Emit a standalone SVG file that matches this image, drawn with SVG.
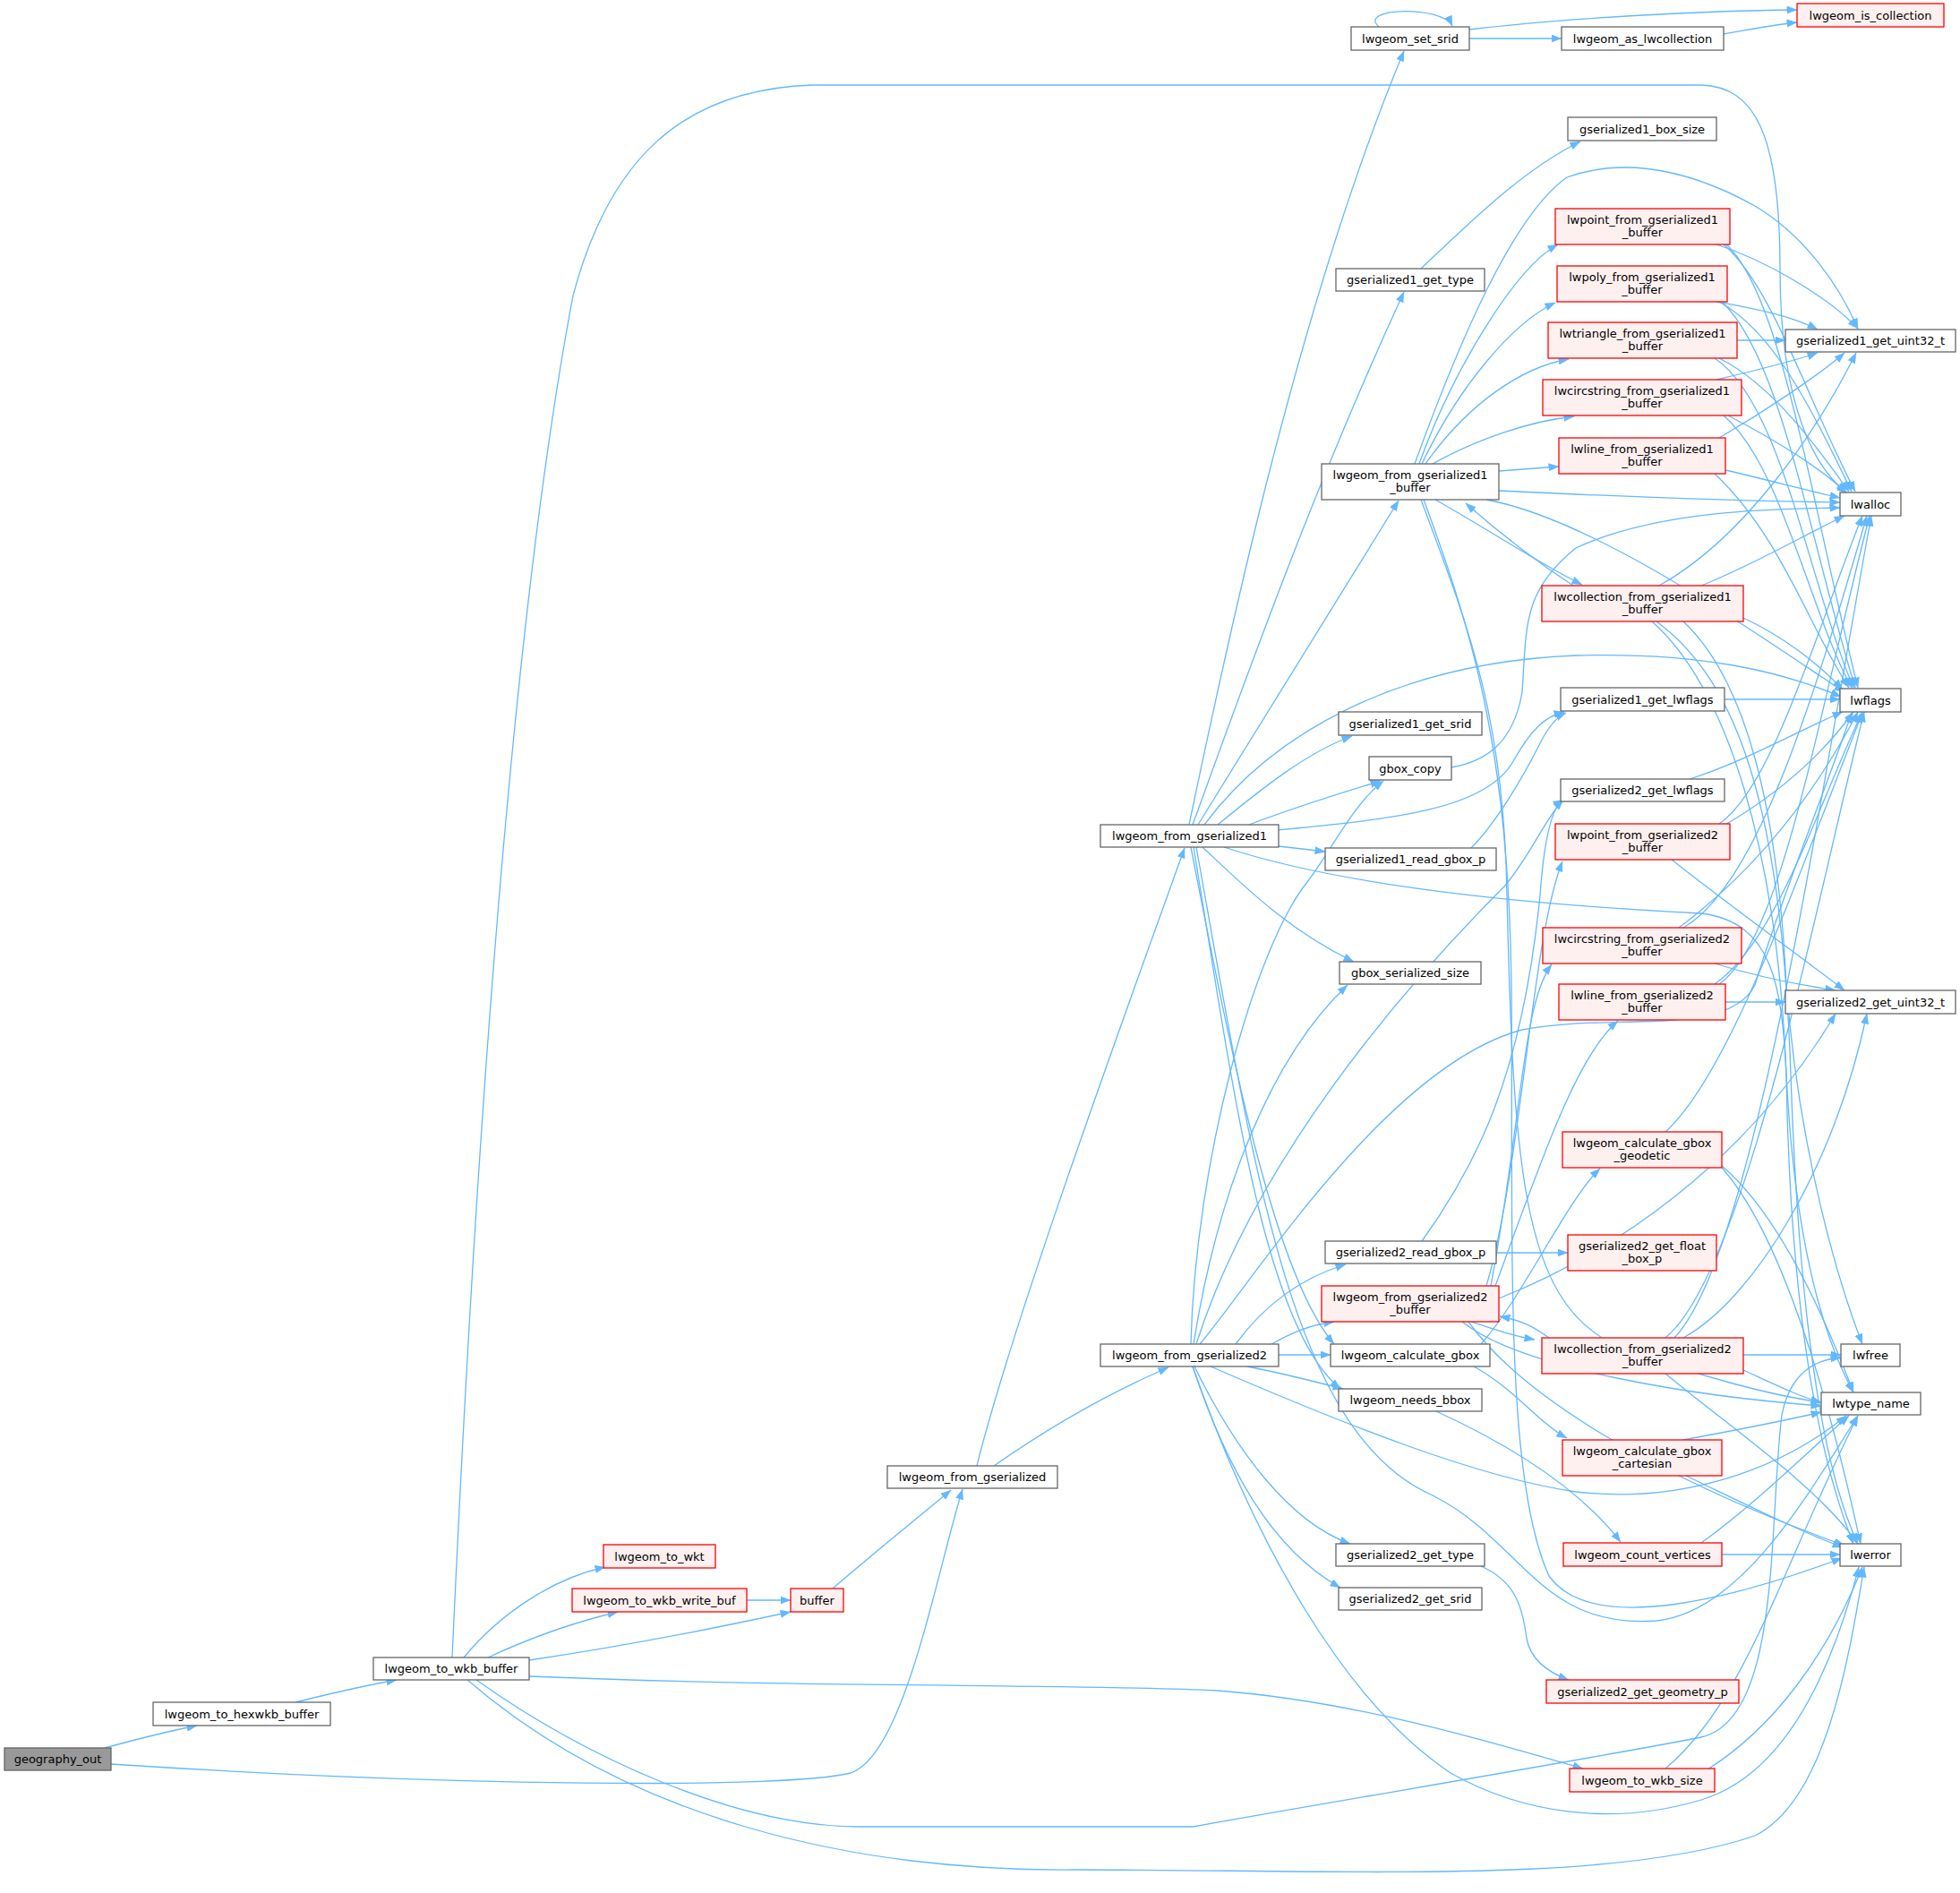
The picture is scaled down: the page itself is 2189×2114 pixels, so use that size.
<svg xmlns="http://www.w3.org/2000/svg" width="2189" height="2114" viewBox="0 0 2189 2114">
<style>
rect{fill:#fff;stroke:#666;stroke-width:1.3}
.r rect{fill:#FFF0F0;stroke:#FF0000}
.g rect{fill:#999}
text{font-family:"DejaVu Sans",sans-serif;font-size:13px;text-anchor:middle;fill:#000}
#edges path{fill:none;stroke:#63B8FF;stroke-width:1.3;marker-end:url(#a)}
</style>
<defs>
<marker id="a" viewBox="0 0 12 9" refX="11.5" refY="4.5" markerWidth="12" markerHeight="9" markerUnits="userSpaceOnUse" orient="auto"><path d="M0,0 L12,4.5 L0,9 z" fill="#63B8FF" stroke="none"/></marker>
</defs>
<rect x="0" y="0" width="2189" height="2114" style="fill:#fff;stroke:none"/>
<g id="edges">
<path d="M117,1952 C150,1943 185,1934 220,1927"/>
<path d="M124,1970 C500,1995 880,1998 950,1980 C1010,1960 1045,1760 1075,1663"/>
<path d="M330,1901 C370,1891 410,1882 443,1876"/>
<path d="M518,1851 C560,1800 620,1762 676,1750"/>
<path d="M545,1851 C590,1830 640,1812 690,1800"/>
<path d="M591,1854 C700,1838 800,1818 883,1800"/>
<path d="M505,1851 C530,1300 570,700 640,330 C680,180 760,100 907,95 L1900,95 C1960,97 1988,150 1988,300 C1988,460 2030,525 2063,551"/>
<path d="M591,1872 C900,1885 1200,1880 1360,1888 C1520,1900 1680,1950 1768,1975"/>
<path d="M532,1876 C650,1960 820,2040 960,2040 L1332,2040 C1500,2010 1800,1960 1900,1940 C1990,1920 1975,1700 1990,1580 C2000,1530 2030,1518 2056,1516"/>
<path d="M522,1876 C700,2030 950,2090 1200,2088 C1500,2088 1800,2105 1960,2050 C2040,2010 2065,1850 2082,1750"/>
<path d="M930,1774 C975,1735 1025,1695 1062,1664"/>
<path d="M834,1787 L883,1787"/>
<path d="M1091,1637 C1130,1480 1250,1150 1323,947"/>
<path d="M1110,1637 C1170,1595 1240,1555 1305,1527"/>
<path d="M1328,921 C1370,720 1450,340 1568,57"/>
<path d="M1332,921 C1380,790 1460,560 1568,326"/>
<path d="M1338,921 C1400,820 1480,690 1562,559"/>
<path d="M1345,921 C1420,820 1560,740 1760,732 C1900,728 1990,750 2056,778"/>
<path d="M1360,921 C1410,880 1460,840 1510,822"/>
<path d="M1395,921 C1450,900 1500,885 1542,872"/>
<path d="M1428,927 C1550,915 1660,905 1690,850 C1710,815 1725,800 1747,795"/>
<path d="M1428,945 L1480,951"/>
<path d="M1343,946 C1390,990 1440,1040 1512,1074"/>
<path d="M1367,946 C1500,990 1700,1010 1900,1020 C1980,1030 1990,1100 1995,1200 C2000,1500 2040,1650 2070,1724"/>
<path d="M1330,946 C1370,1150 1420,1420 1490,1501"/>
<path d="M1333,946 C1375,1200 1410,1480 1497,1551"/>
<path d="M1336,946 C1400,1300 1440,1600 1600,1670 C1700,1720 1720,1820 1850,1810 C1950,1800 2030,1650 2075,1581"/>
<path d="M1330,1501 C1335,1300 1400,1060 1460,985 C1490,945 1510,900 1545,872"/>
<path d="M1333,1501 C1360,1330 1420,1180 1505,1100"/>
<path d="M1336,1501 C1400,1300 1560,1110 1680,990 C1710,955 1725,915 1746,893"/>
<path d="M1340,1501 C1400,1430 1550,1190 1700,1150 C1800,1130 1930,1160 1960,1100 C1990,1000 2040,880 2068,796"/>
<path d="M1380,1501 C1410,1460 1450,1428 1503,1412"/>
<path d="M1420,1501 C1440,1490 1460,1480 1490,1476"/>
<path d="M1428,1513 L1486,1513"/>
<path d="M1393,1526 C1430,1533 1465,1542 1500,1551"/>
<path d="M1334,1526 C1380,1620 1440,1700 1508,1724"/>
<path d="M1332,1526 C1370,1640 1420,1730 1497,1773"/>
<path d="M1352,1526 C1500,1590 1650,1650 1760,1666 C1880,1680 1990,1640 2062,1581"/>
<path d="M1332,1526 C1400,1720 1500,1900 1620,1980 C1700,2025 1800,2040 1900,2010 C2000,1980 2050,1850 2076,1750"/>
<path d="M1540,30 C1515,8 1612,6 1622,29"/>
<path d="M1641,43 L1744,43"/>
<path d="M1641,33 C1750,20 1900,12 2007,11"/>
<path d="M1925,38 C1960,32 1985,27 2007,25"/>
<path d="M1587,300 C1640,250 1700,190 1765,158"/>
<path d="M1654,1749 C1690,1765 1700,1790 1705,1830 C1710,1855 1730,1868 1752,1876"/>
<path d="M1585,518 C1620,420 1690,300 1740,273"/>
<path d="M1588,518 C1630,430 1690,360 1737,338"/>
<path d="M1592,518 C1640,450 1700,410 1752,401"/>
<path d="M1600,518 C1650,490 1710,470 1758,465"/>
<path d="M1674,526 L1741,521"/>
<path d="M1603,558 C1660,590 1720,630 1767,653"/>
<path d="M1580,518 C1630,380 1690,240 1750,198 C1800,180 1870,180 1960,230 C2010,260 2050,310 2075,367"/>
<path d="M1674,548 C1800,554 1950,560 2055,561"/>
<path d="M1660,558 C1780,580 1950,700 2060,773"/>
<path d="M1587,558 C1640,700 1680,800 1683,1000 C1690,1300 1700,1450 1800,1500 C1900,1540 1990,1560 2034,1566"/>
<path d="M1590,558 C1650,720 1685,850 1688,1100 C1690,1400 1680,1650 1730,1760 C1780,1830 1950,1780 2057,1740"/>
<path d="M1917,273 C1970,290 2040,330 2075,367"/>
<path d="M1925,273 C1980,320 2020,450 2072,549"/>
<path d="M1928,273 C1990,330 2020,550 2075,768"/>
<path d="M1917,337 C1960,345 2000,352 2030,368"/>
<path d="M1920,337 C1980,370 2020,450 2068,549"/>
<path d="M1923,337 C1990,400 2020,600 2072,768"/>
<path d="M1940,380 L1994,380"/>
<path d="M1920,400 C1980,430 2030,500 2065,549"/>
<path d="M1915,400 C1990,450 2020,650 2070,768"/>
<path d="M1917,424 C1960,414 2000,404 2030,394"/>
<path d="M1930,464 C1980,490 2030,520 2062,550"/>
<path d="M1925,464 C1990,520 2020,680 2068,768"/>
<path d="M1920,489 C1970,460 2030,420 2060,394"/>
<path d="M1927,525 C1970,535 2020,548 2055,556"/>
<path d="M1915,529 C1990,600 2020,700 2065,768"/>
<path d="M1853,654 C1950,600 2030,480 2073,394"/>
<path d="M1900,654 C1960,630 2010,600 2060,576"/>
<path d="M1947,690 C1990,710 2030,740 2058,770"/>
<path d="M1760,656 C1720,630 1680,600 1637,562"/>
<path d="M1850,694 C1940,760 1990,900 2000,1200 C2010,1500 2040,1650 2075,1724"/>
<path d="M1845,694 C1930,770 1985,950 1995,1200 C2005,1400 2040,1500 2070,1555"/>
<path d="M1880,694 C1950,760 1985,900 1995,1100 C2010,1300 2060,1450 2080,1501"/>
<path d="M1926,781 L2055,781"/>
<path d="M1643,947 C1670,920 1700,870 1720,830 C1730,810 1740,800 1749,796"/>
<path d="M1621,857 C1660,850 1690,830 1700,773 C1705,700 1700,660 1760,612 C1850,570 1980,568 2055,567"/>
<path d="M1887,870 C1950,850 2010,815 2058,795"/>
<path d="M1867,960 C1930,1010 2000,1060 2060,1106"/>
<path d="M1920,920 C1980,880 2030,700 2080,576"/>
<path d="M1925,922 C1980,890 2030,850 2070,795"/>
<path d="M1915,1076 C1960,1090 2010,1100 2050,1106"/>
<path d="M1880,1036 C1960,990 2020,800 2085,576"/>
<path d="M1875,1036 C1950,980 2020,900 2075,795"/>
<path d="M1927,1119 L1994,1119"/>
<path d="M1920,1099 C1990,1050 2030,800 2088,576"/>
<path d="M1915,1099 C1985,1050 2030,900 2080,795"/>
<path d="M1880,1494 C1960,1450 2050,1300 2085,1132"/>
<path d="M1870,1494 C1960,1400 2030,900 2090,576"/>
<path d="M1860,1494 C1950,1420 2030,1000 2082,795"/>
<path d="M1947,1513 L2056,1513"/>
<path d="M1947,1530 C1980,1545 2010,1560 2034,1566"/>
<path d="M1860,1534 C1940,1600 2030,1660 2075,1724"/>
<path d="M1730,1494 C1710,1480 1700,1475 1675,1470"/>
<path d="M1660,1436 C1700,1300 1710,1050 1745,962"/>
<path d="M1665,1436 C1700,1250 1700,1120 1733,1077"/>
<path d="M1670,1436 C1720,1300 1760,1180 1807,1140"/>
<path d="M1643,1476 C1670,1485 1690,1492 1714,1496"/>
<path d="M1674,1450 C1800,1400 1950,1300 2050,1132"/>
<path d="M1633,1476 C1700,1530 1900,1560 2034,1570"/>
<path d="M1640,1476 C1700,1560 1850,1650 2060,1726"/>
<path d="M1671,1399 L1751,1399"/>
<path d="M1588,1386 C1650,1300 1700,1200 1720,1000 C1725,930 1735,900 1746,893"/>
<path d="M1654,1501 C1700,1450 1750,1340 1787,1305"/>
<path d="M1646,1526 C1690,1550 1720,1590 1750,1606"/>
<path d="M1604,1576 C1700,1620 1770,1670 1810,1722"/>
<path d="M1860,1264 C1930,1200 2000,1000 2080,796"/>
<path d="M1923,1302 C1980,1350 2030,1450 2070,1555"/>
<path d="M1923,1304 C1990,1380 2040,1550 2078,1724"/>
<path d="M1880,1608 C1950,1595 2000,1585 2034,1577"/>
<path d="M1883,1648 C1950,1680 2010,1710 2058,1728"/>
<path d="M1900,1723 C1960,1680 2020,1620 2065,1581"/>
<path d="M1923,1736 L2055,1736"/>
<path d="M1860,1975 C1950,1900 1990,1750 2075,1581"/>
<path d="M1907,1976 C1980,1930 2040,1850 2080,1750"/>
</g>
<g id="geography_out" class="g"><rect x="5" y="1952" width="119" height="25"/><text x="64.5" y="1969">geography_out</text></g>
<g id="lwgeom_to_hexwkb_buffer"><rect x="171" y="1901" width="198" height="26"/><text x="270" y="1918.5">lwgeom_to_hexwkb_buffer</text></g>
<g id="lwgeom_to_wkb_buffer"><rect x="417" y="1851" width="174" height="25"/><text x="504" y="1868">lwgeom_to_wkb_buffer</text></g>
<g id="lwgeom_to_wkt" class="r"><rect x="674" y="1725" width="125" height="26"/><text x="736.5" y="1742.5">lwgeom_to_wkt</text></g>
<g id="lwgeom_to_wkb_write_buf" class="r"><rect x="639" y="1774" width="195" height="26"/><text x="736.5" y="1791.5">lwgeom_to_wkb_write_buf</text></g>
<g id="buffer" class="r"><rect x="883" y="1774" width="59" height="26"/><text x="912.5" y="1791.5">buffer</text></g>
<g id="lwgeom_from_gserialized"><rect x="991" y="1637" width="190" height="25"/><text x="1086" y="1654">lwgeom_from_gserialized</text></g>
<g id="lwgeom_from_gserialized1"><rect x="1229" y="921" width="199" height="25"/><text x="1328.5" y="938">lwgeom_from_gserialized1</text></g>
<g id="lwgeom_from_gserialized2"><rect x="1229" y="1501" width="199" height="25"/><text x="1328.5" y="1518">lwgeom_from_gserialized2</text></g>
<g id="lwgeom_set_srid"><rect x="1509" y="30" width="132" height="26"/><text x="1575" y="47.5">lwgeom_set_srid</text></g>
<g id="lwgeom_as_lwcollection"><rect x="1744" y="30" width="181" height="26"/><text x="1834.5" y="47.5">lwgeom_as_lwcollection</text></g>
<g id="lwgeom_is_collection" class="r"><rect x="2007" y="4" width="164" height="26"/><text x="2089" y="21.5">lwgeom_is_collection</text></g>
<g id="gserialized1_box_size"><rect x="1751" y="131" width="166" height="26"/><text x="1834" y="148.5">gserialized1_box_size</text></g>
<g id="gserialized1_get_type"><rect x="1492" y="300" width="166" height="25"/><text x="1575" y="317">gserialized1_get_type</text></g>
<g id="lwpoint_from_gserialized1_buffer" class="r"><rect x="1737" y="233" width="195" height="40"/><text x="1834.5" y="249.5">lwpoint_from_gserialized1</text><text x="1834.5" y="264">_buffer</text></g>
<g id="lwpoly_from_gserialized1_buffer" class="r"><rect x="1739" y="297" width="190" height="40"/><text x="1834" y="313.5">lwpoly_from_gserialized1</text><text x="1834" y="328">_buffer</text></g>
<g id="lwtriangle_from_gserialized1_buffer" class="r"><rect x="1729" y="360" width="211" height="40"/><text x="1834.5" y="376.5">lwtriangle_from_gserialized1</text><text x="1834.5" y="391">_buffer</text></g>
<g id="lwcircstring_from_gserialized1_buffer" class="r"><rect x="1723" y="424" width="222" height="40"/><text x="1834" y="440.5">lwcircstring_from_gserialized1</text><text x="1834" y="455">_buffer</text></g>
<g id="lwline_from_gserialized1_buffer" class="r"><rect x="1741" y="489" width="186" height="40"/><text x="1834" y="505.5">lwline_from_gserialized1</text><text x="1834" y="520">_buffer</text></g>
<g id="lwgeom_from_gserialized1_buffer"><rect x="1476" y="518" width="198" height="40"/><text x="1575" y="534.5">lwgeom_from_gserialized1</text><text x="1575" y="549">_buffer</text></g>
<g id="lwcollection_from_gserialized1_buffer" class="r"><rect x="1722" y="654" width="225" height="40"/><text x="1834.5" y="670.5">lwcollection_from_gserialized1</text><text x="1834.5" y="685">_buffer</text></g>
<g id="gserialized1_get_uint32_t"><rect x="1994" y="368" width="190" height="25"/><text x="2089" y="385">gserialized1_get_uint32_t</text></g>
<g id="lwalloc"><rect x="2055" y="550" width="68" height="26"/><text x="2089" y="567.5">lwalloc</text></g>
<g id="lwflags"><rect x="2055" y="769" width="68" height="26"/><text x="2089" y="786.5">lwflags</text></g>
<g id="gserialized1_get_lwflags"><rect x="1743" y="768" width="183" height="26"/><text x="1834.5" y="785.5">gserialized1_get_lwflags</text></g>
<g id="gserialized1_get_srid"><rect x="1495" y="795" width="160" height="26"/><text x="1575" y="812.5">gserialized1_get_srid</text></g>
<g id="gbox_copy"><rect x="1529" y="845" width="92" height="26"/><text x="1575" y="862.5">gbox_copy</text></g>
<g id="gserialized2_get_lwflags"><rect x="1743" y="870" width="183" height="25"/><text x="1834.5" y="887">gserialized2_get_lwflags</text></g>
<g id="gserialized1_read_gbox_p"><rect x="1480" y="947" width="191" height="25"/><text x="1575.5" y="964">gserialized1_read_gbox_p</text></g>
<g id="lwpoint_from_gserialized2_buffer" class="r"><rect x="1737" y="920" width="195" height="40"/><text x="1834.5" y="936.5">lwpoint_from_gserialized2</text><text x="1834.5" y="951">_buffer</text></g>
<g id="lwcircstring_from_gserialized2_buffer" class="r"><rect x="1723" y="1036" width="222" height="40"/><text x="1834" y="1052.5">lwcircstring_from_gserialized2</text><text x="1834" y="1067">_buffer</text></g>
<g id="gbox_serialized_size"><rect x="1496" y="1074" width="158" height="25"/><text x="1575" y="1091">gbox_serialized_size</text></g>
<g id="lwline_from_gserialized2_buffer" class="r"><rect x="1741" y="1099" width="186" height="40"/><text x="1834" y="1115.5">lwline_from_gserialized2</text><text x="1834" y="1130">_buffer</text></g>
<g id="gserialized2_get_uint32_t"><rect x="1994" y="1106" width="190" height="26"/><text x="2089" y="1123.5">gserialized2_get_uint32_t</text></g>
<g id="lwgeom_calculate_gbox_geodetic" class="r"><rect x="1745" y="1264" width="178" height="40"/><text x="1834" y="1280.5">lwgeom_calculate_gbox</text><text x="1834" y="1295">_geodetic</text></g>
<g id="gserialized2_read_gbox_p"><rect x="1480" y="1386" width="191" height="25"/><text x="1575.5" y="1403">gserialized2_read_gbox_p</text></g>
<g id="gserialized2_get_float_box_p" class="r"><rect x="1751" y="1379" width="166" height="40"/><text x="1834" y="1395.5">gserialized2_get_float</text><text x="1834" y="1410">_box_p</text></g>
<g id="lwgeom_from_gserialized2_buffer" class="r"><rect x="1476" y="1436" width="198" height="40"/><text x="1575" y="1452.5">lwgeom_from_gserialized2</text><text x="1575" y="1467">_buffer</text></g>
<g id="lwcollection_from_gserialized2_buffer" class="r"><rect x="1722" y="1494" width="225" height="40"/><text x="1834.5" y="1510.5">lwcollection_from_gserialized2</text><text x="1834.5" y="1525">_buffer</text></g>
<g id="lwgeom_calculate_gbox"><rect x="1486" y="1501" width="178" height="25"/><text x="1575" y="1518">lwgeom_calculate_gbox</text></g>
<g id="lwfree"><rect x="2056" y="1501" width="66" height="25"/><text x="2089" y="1518">lwfree</text></g>
<g id="lwgeom_needs_bbox"><rect x="1495" y="1551" width="160" height="25"/><text x="1575" y="1568">lwgeom_needs_bbox</text></g>
<g id="lwtype_name"><rect x="2034" y="1555" width="111" height="25"/><text x="2089.5" y="1572">lwtype_name</text></g>
<g id="lwgeom_calculate_gbox_cartesian" class="r"><rect x="1745" y="1608" width="178" height="40"/><text x="1834" y="1624.5">lwgeom_calculate_gbox</text><text x="1834" y="1639">_cartesian</text></g>
<g id="lwgeom_count_vertices" class="r"><rect x="1746" y="1723" width="177" height="26"/><text x="1834.5" y="1740.5">lwgeom_count_vertices</text></g>
<g id="lwerror"><rect x="2055" y="1724" width="68" height="25"/><text x="2089" y="1741">lwerror</text></g>
<g id="gserialized2_get_type"><rect x="1492" y="1724" width="166" height="25"/><text x="1575" y="1741">gserialized2_get_type</text></g>
<g id="gserialized2_get_srid"><rect x="1495" y="1773" width="160" height="25"/><text x="1575" y="1790">gserialized2_get_srid</text></g>
<g id="gserialized2_get_geometry_p" class="r"><rect x="1727" y="1876" width="215" height="26"/><text x="1834.5" y="1893.5">gserialized2_get_geometry_p</text></g>
<g id="lwgeom_to_wkb_size" class="r"><rect x="1753" y="1975" width="162" height="26"/><text x="1834" y="1992.5">lwgeom_to_wkb_size</text></g>
</svg>
